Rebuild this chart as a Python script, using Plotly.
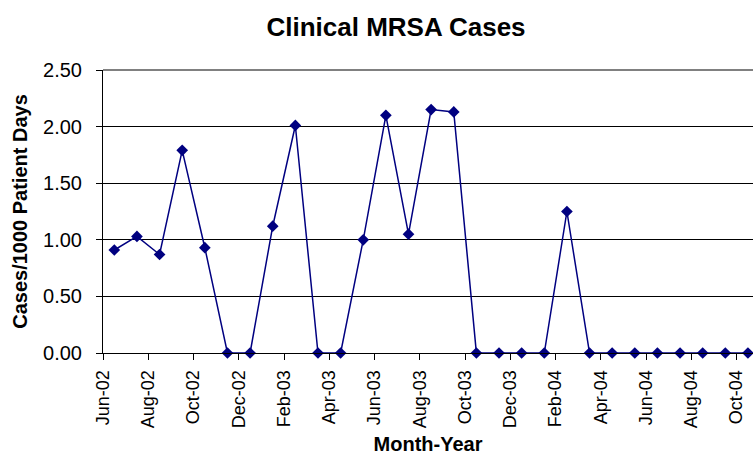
import plotly.graph_objects as go

months = ["Jun-02", "Jul-02", "Aug-02", "Sep-02", "Oct-02", "Nov-02", "Dec-02",
          "Jan-03", "Feb-03", "Mar-03", "Apr-03", "May-03", "Jun-03", "Jul-03",
          "Aug-03", "Sep-03", "Oct-03", "Nov-03", "Dec-03", "Jan-04", "Feb-04",
          "Mar-04", "Apr-04", "May-04", "Jun-04", "Jul-04", "Aug-04", "Sep-04", "Oct-04"]
cases = [0.91, 1.03, 0.87, 1.79, 0.93, 0.00, 0.00,
         1.12, 2.01, 0.00, 0.00, 1.00, 2.10, 1.05,
         2.15, 2.13, 0.00, 0.00, 0.00, 0.00, 1.25,
         0.00, 0.00, 0.00, 0.00, 0.00, 0.00, 0.00, 0.00]
tick_labels = months[::2]
y_ticks = [0, 0.5, 1.0, 1.5, 2.0, 2.5]

idx = list(range(len(months)))
tick_pos = [i - 0.5 for i in idx[::2]]

W, H = 753, 455
L, T, B = 102.7, 70, 352.7
font = "Liberation Sans, Arial, sans-serif"

fig = go.Figure()
fig.add_trace(go.Scatter(
    x=idx, y=cases, mode="lines+markers",
    line=dict(color="#000080", width=1.5),
    marker=dict(symbol="diamond", size=9, color="#000080"),
    hovertext=months, showlegend=False, cliponaxis=False,
))

fig.update_layout(
    width=W, height=H,
    margin=dict(l=L, r=0, t=T, b=H - B, autoexpand=False),
    paper_bgcolor="white", plot_bgcolor="white",
    font=dict(family=font, color="black"),
    title=dict(text="<b>Clinical MRSA Cases</b>", x=396 / W, xanchor="center",
               y=1 - 27 / H, yanchor="middle", yref="container",
               font=dict(size=26, family=font, color="black")),
    xaxis=dict(
        range=[-0.5, (W - L) / 22.64 - 0.5],
        tickmode="array", tickvals=tick_pos, ticktext=tick_labels,
        tickangle=-90, tickfont=dict(size=18),
        ticks="outside", ticklen=6, tickcolor="black", tickwidth=1,
        ticklabelstandoff=3,
        showline=True, linecolor="black", linewidth=1,
        showgrid=False, zeroline=False,
        title=dict(text="<b>Month-Year</b>", font=dict(size=20), standoff=14),
    ),
    yaxis=dict(
        range=[0, 2.5], tickmode="array", tickvals=y_ticks,
        tickformat=".2f", tickfont=dict(size=20),
        ticks="outside", ticklen=6, tickcolor="black", tickwidth=1,
        ticklabelstandoff=10,
        showline=True, linecolor="black", linewidth=1,
        showgrid=True, gridcolor="black", gridwidth=1, zeroline=False,
        title=dict(text="<b>Cases/1000 Patient Days</b>", font=dict(size=20), standoff=10),
    ),
    shapes=[dict(type="line", xref="paper", yref="paper", x0=0, x1=1, y0=1, y1=1,
                 line=dict(color="#808080", width=2))],
)

fig.write_html("out.html", config={"displayModeBar": False})

with open("out.html", "r", encoding="utf-8") as f:
    html = f.read()
html = html.replace("<body>", '<body style="margin:0;overflow:hidden">', 1)
with open("out.html", "w", encoding="utf-8") as f:
    f.write(html)
